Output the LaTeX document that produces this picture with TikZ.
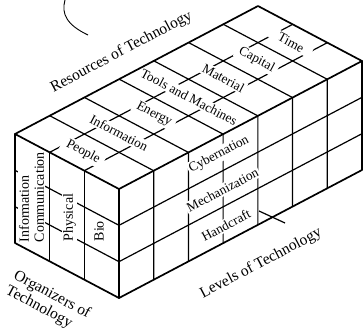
\documentclass[tikz,border=0pt]{standalone}
\usepackage{fontspec}
\setmainfont{Liberation Serif}
\usetikzlibrary{calc}
\begin{document}
\begin{tikzpicture}[x=1pt,y=-1pt,
  edge/.style={line width=1.7pt, line join=round, line cap=round},
  gridline/.style={line width=1.2pt},
  toplbl/.style={fill=white, inner xsep=2pt, inner ysep=1.5pt, minimum width=46pt,
    font=\fontsize{13.3}{14}\selectfont, rotate=-27.9},
  rightlbl/.style={fill=white, inner sep=1.5pt, font=\fontsize{13.3}{14}\selectfont, rotate=27.8},
  leftlbl/.style={fill=white, inner sep=1pt, font=\fontsize{14}{15}\selectfont, rotate=90, anchor=west},
  axislbl/.style={inner sep=0pt, font=\fontsize{15.5}{17}\selectfont}
]
\useasboundingbox (0,0) rectangle (363,335);
% box corners
\coordinate (A) at (15,134);
\coordinate (B) at (119,189);
\coordinate (C) at (362,61);
\coordinate (D) at (258,6);
\coordinate (Ab) at (15,243);
\coordinate (Bb) at (119,298);
\coordinate (Cb) at (362,170);
% grid lines
\foreach \k in {1,...,6} {
  \draw[gridline] ($(A)!\k/7!(D)$) -- ($(B)!\k/7!(C)$) -- ($(Bb)!\k/7!(Cb)$);
}
\foreach \f in {0.33333,0.66667} {
  \draw[gridline] ($(A)!\f!(B)$) -- ($(D)!\f!(C)$);
  \draw[gridline] ($(B)!\f!(Bb)$) -- ($(C)!\f!(Cb)$);
  \draw[gridline] ($(A)!\f!(B)$) -- ($(Ab)!\f!(Bb)$);
  \draw[gridline] ($(A)!\f!(Ab)$) -- ($(B)!\f!(Bb)$);
}
% resources (top face)
\node[toplbl] (people) at (83,152) {People};
\node[toplbl] (info) at (119,133) {Information};
\node[toplbl] (energy) at (154,114.5) {Energy};
\node[toplbl] (tools) at (189,97) {Tools and Machines};
\node[toplbl] (material) at (223.5,78.2) {Material};
\node[toplbl] (capital) at (256.7,60) {Capital};
\node[toplbl] (time) at (291,42.5) {Time};
% levels (right face)
\node[rightlbl] (cyber) at (219,154.5) {Cybernation};
\node[rightlbl] (mech) at (222.5,190) {Mechanization};
\node[rightlbl] (hand) at (226,225) {Handcraft};
% organizers (left face)
\node[leftlbl, align=left] (infocom) at (31.5,243.5) {Information\\Communication};
\node[leftlbl] (phys) at (69.5,242.5) {Physical};
\node[leftlbl] (bio) at (99,242.5) {Bio};
% outer edges
\draw[edge] (A) -- (D) -- (C) -- (B) -- cycle;
\draw[edge] (A) -- (Ab) -- (Bb) -- (Cb) -- (C);
\draw[edge] (B) -- (Bb);
% axis labels
\node[axislbl, rotate=27.8] (res) at (121.5,52) {Resources of Technology};
\node[axislbl, rotate=27.8] (lev) at (261,263.5) {Levels of Technology};
\node[axislbl, rotate=-27.9, align=left] (org) at (48,302.5) {Organizers of\\Technology};
% leader line and stray curve
\coordinate (l1) at (259,211);
\coordinate (l2) at (285,223);
\draw[gridline] (l1) -- (l2);
\coordinate (q1) at (65,0);
\coordinate (q2) at (88,35);
\draw[line width=0.9pt] (q1) .. controls (61,14) and (67,25) .. (q2);
\end{tikzpicture}
\end{document}
